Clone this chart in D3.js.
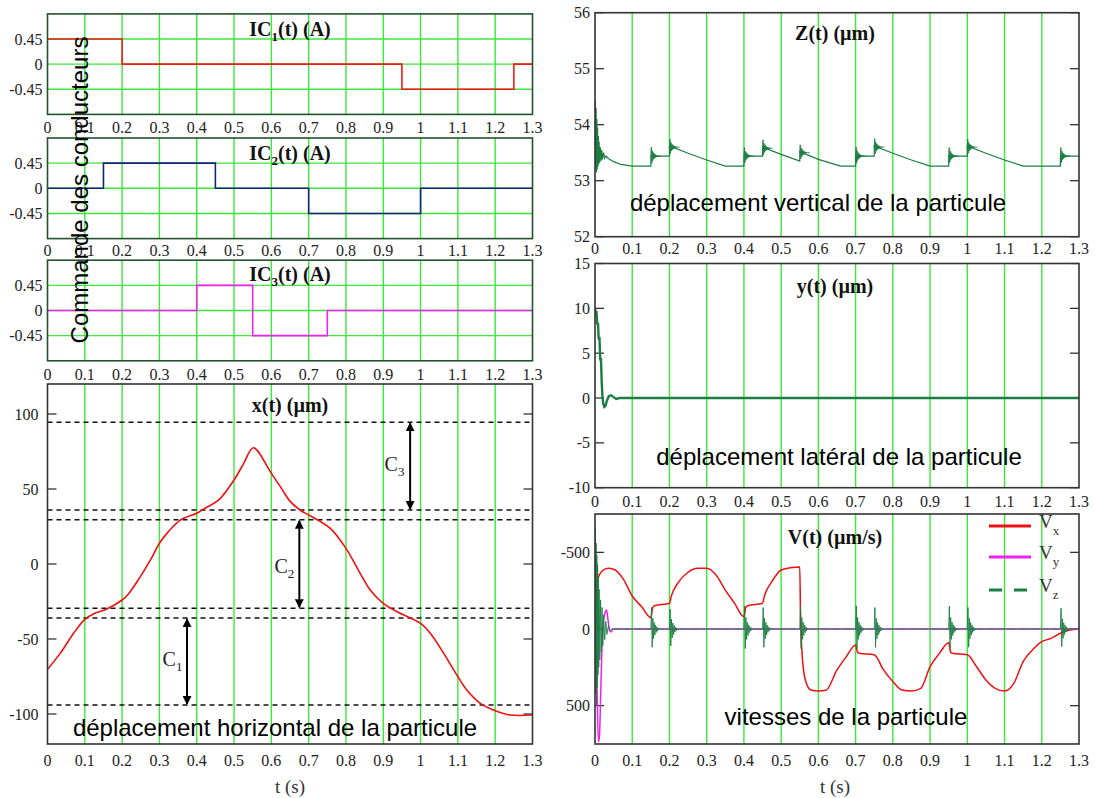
<!DOCTYPE html>
<html><head><meta charset="utf-8">
<script src="https://cdn.jsdelivr.net/npm/d3@7"></script>
<style>body{margin:0;background:#fff}svg{display:block}</style>
</head><body><svg id="c" width="1095" height="798"></svg>
<script>
// ---------------- DATA ----------------
const tTicks = [0,0.1,0.2,0.3,0.4,0.5,0.6,0.7,0.8,0.9,1,1.1,1.2,1.3];
const tTickLabels = ["0","0.1","0.2","0.3","0.4","0.5","0.6","0.7","0.8","0.9","1","1.1","1.2","1.3"];

const icTicks = [0.45, 0, -0.45];
const icTickLabels = ["0.45", "0", "-0.45"];
const ic1 = [[0,0.45],[0.2,0.45],[0.2,0],[0.95,0],[0.95,-0.45],[1.25,-0.45],[1.25,0],[1.3,0]];
const ic2 = [[0,0],[0.15,0],[0.15,0.45],[0.45,0.45],[0.45,0],[0.7,0],[0.7,-0.45],[1.0,-0.45],[1.0,0],[1.3,0]];
const ic3 = [[0,0],[0.4,0],[0.4,0.45],[0.55,0.45],[0.55,-0.45],[0.75,-0.45],[0.75,0],[1.3,0]];

const xTicks = [100, 50, 0, -50, -100];
const xTickLabels = ["100", "50", "0", "-50", "-100"];
const xPos = [[0,-70.2],[0.034,-59.6],[0.07,-46.2],[0.1,-36.9],[0.123,-33.3],[0.159,-30],[0.2,-24],[0.218,-19.6],
  [0.249,-8.4],[0.276,2.7],[0.3,13.8],[0.32,20.4],[0.356,29.3],[0.4,33.8],[0.427,37.8],[0.459,42.7],[0.5,56],
  [0.526,67.1],[0.552,77.5],[0.6,60.4],[0.624,51.6],[0.651,41.6],[0.68,35.5],[0.7,32.7],[0.758,23.8],[0.8,10.4],
  [0.838,-6.2],[0.865,-17.3],[0.9,-26.2],[0.937,-31.8],[1.0,-39.6],[1.026,-46.2],[1.062,-59.6],[1.1,-75.1],
  [1.124,-84],[1.16,-92.9],[1.2,-97.8],[1.24,-100.7],[1.3,-100.7]];
const xLevels = [94.5, 36, 29.5, -29.5, -36, -94];
const coilArrows = [ {name:"3", t:0.972, from:94.5, to:36, lt:0.93, lv:66},
                     {name:"2", t:0.675, from:29.5, to:-29.5, lt:0.635, lv:-2},
                     {name:"1", t:0.374, from:-36, to:-94, lt:0.335, lv:-64} ];

const zTicks = [56, 55, 54, 53, 52];
const zTickLabels = ["56","55","54","53","52"];
const zStart = [[0,53.2],[0.001,54.44],[0.002,53.3],[0.003,54.3],[0.004,53.15],[0.005,54.1],[0.006,53.2],[0.007,53.95],
  [0.008,53.25],[0.009,53.8],[0.010,53.3],[0.011,53.7],[0.012,53.32],[0.014,53.6],[0.016,53.35],[0.018,53.55],
  [0.02,53.38],[0.023,53.5],[0.026,53.4],[0.03,53.44],[0.035,53.4]];
const zBase = [[0.035,53.4],[0.05,53.34],[0.07,53.29],[0.1,53.26],[0.15,53.26],[0.15,53.44],[0.2,53.44],[0.2,53.62],
  [0.25,53.49],[0.3,53.37],[0.35,53.26],[0.4,53.26],[0.4,53.44],[0.45,53.44],[0.45,53.6],[0.5,53.47],[0.55,53.35],
  [0.55,53.52],[0.6,53.38],[0.66,53.26],[0.7,53.26],[0.7,53.44],[0.75,53.44],[0.75,53.62],[0.8,53.49],[0.85,53.37],
  [0.9,53.26],[0.95,53.26],[0.95,53.44],[1.0,53.44],[1.0,53.62],[1.05,53.49],[1.1,53.37],[1.15,53.26],[1.25,53.26],
  [1.25,53.44],[1.3,53.44]];
// switching events: time, settled level, ringing amplitude
const zBursts = [[0.15,53.44,0.16],[0.2,53.6,0.14],[0.4,53.44,0.15],[0.45,53.58,0.15],[0.55,53.5,0.14],
  [0.7,53.44,0.16],[0.75,53.6,0.15],[0.95,53.44,0.15],[1.0,53.6,0.14],[1.25,53.44,0.15]];
const zBurstShape = [0,1,-0.8,0.6,-0.5,0.4,-0.34,0.28,-0.23,0.18,-0.15,0.12,-0.1,0.08,-0.06,0.05,-0.04,0.03,-0.02,0.015,-0.01,0];
const zBurstStep = 0.0013;

const yTicks = [15, 10, 5, 0, -5, -10];
const yTickLabels = ["15","10","5","0","-5","-10"];
const yPos = [[0,10],[0.002,9.5],[0.004,9.7],[0.006,8.2],[0.008,8.4],[0.01,6.5],[0.012,6.8],[0.014,4.2],[0.016,4.5],
  [0.018,1.8],[0.02,0.2],[0.022,-0.6],[0.025,-1.0],[0.028,-0.9],[0.032,-0.3],[0.037,0.2],[0.043,0.3],[0.05,0.1],
  [0.057,-0.1],[0.065,0],[1.3,0]];

const vTicks = [-500, 0, 500];
const vTickLabels = ["-500", "0", "500"];
const vx = [[0,0],[0.003,-250],[0.008,-330],[0.02,-380],[0.035,-396],[0.05,-390],[0.075,-330],[0.1,-215],[0.125,-146],
  [0.15,-74],[0.155,-140],[0.16,-152],[0.2,-168],[0.205,-215],[0.222,-298],[0.25,-370],[0.275,-396],[0.3,-396],
  [0.325,-352],[0.35,-254],[0.375,-167],[0.4,-80],[0.405,-140],[0.41,-152],[0.45,-168],[0.455,-215],[0.475,-309],
  [0.5,-385],[0.525,-400],[0.55,-405],[0.552,-100],[0.555,115],[0.565,333],[0.58,398],[0.6,404],[0.62,400],
  [0.65,267],[0.675,180],[0.7,104],[0.705,150],[0.71,158],[0.75,168],[0.775,267],[0.8,343],[0.825,398],[0.85,404],
  [0.875,387],[0.9,246],[0.925,159],[0.95,89],[0.955,150],[0.96,158],[1.0,168],[1.025,246],[1.05,333],[1.075,387],
  [1.1,404],[1.125,354],[1.15,213],[1.175,137],[1.2,83],[1.225,61],[1.25,28],[1.275,7],[1.3,0]];
const vy = [[0,0],[0.003,100],[0.006,450],[0.009,735],[0.012,700],[0.015,450],[0.019,100],[0.023,-60],[0.028,-115],
  [0.031,-124],[0.035,-60],[0.039,10],[0.043,20],[0.048,0],[1.3,0]];
const vzStart = [[0,0],[0.001,-660],[0.002,420],[0.003,-560],[0.004,500],[0.005,-480],[0.006,380],[0.007,-420],
  [0.008,300],[0.009,-330],[0.010,250],[0.011,-260],[0.013,200],[0.015,-190],[0.017,150],[0.019,-140],[0.021,110],
  [0.023,-90],[0.026,70],[0.029,-50],[0.032,35],[0.036,-20],[0.04,10],[0.045,0]];
const vzBursts = [[0.15,140],[0.2,130],[0.4,150],[0.45,140],[0.55,150],[0.7,150],[0.75,140],[0.95,150],[1.0,140],[1.25,135]];
const vzBurstShape = [0,1,-0.85,0.5,-0.45,0.3,-0.28,0.18,-0.16,0.1,-0.09,0.05,-0.04,0.02,-0.01,0];
const vzBurstStep = 0.0018;

// ---------------- DRAWING ----------------
const svg = d3.select("#c");
const SERIF = "'Liberation Serif','Times New Roman',serif";
const SANS = "'Liberation Sans',Arial,sans-serif";
const GRID = "#3be83b";
let clipId = 0;

function panel(o) {
  const x = d3.scaleLinear([0, 1.3], [o.x0, o.x1]);
  const y = d3.scaleLinear(o.yDomain, o.yRange);
  const top = Math.min(...o.yRange), bot = Math.max(...o.yRange);
  const g = svg.append("g");
  const id = "clip" + (clipId++);
  g.append("clipPath").attr("id", id).append("rect")
    .attr("x", o.x0).attr("y", top).attr("width", o.x1 - o.x0).attr("height", bot - top);
  g.append("g").selectAll("line").data(tTicks.slice(1, -1)).join("line")
    .attr("x1", d => x(d)).attr("x2", d => x(d)).attr("y1", top).attr("y2", bot)
    .attr("stroke", GRID).attr("stroke-width", 1.4);
  if (o.hGrid) {
    g.append("g").selectAll("line").data(o.yTicks).join("line")
      .attr("x1", o.x0).attr("x2", o.x1).attr("y1", d => y(d)).attr("y2", d => y(d))
      .attr("stroke", GRID).attr("stroke-width", 1.4);
  }
  if (o.tickMarks) {
    g.append("g").selectAll("line").data(o.yTicks).join("line")
      .attr("x1", o.x0).attr("x2", o.x0 + 9).attr("y1", d => y(d)).attr("y2", d => y(d))
      .attr("stroke", "#222").attr("stroke-width", 1.2);
    g.append("g").selectAll("line").data(o.yTicks).join("line")
      .attr("x1", o.x1 - 9).attr("x2", o.x1).attr("y1", d => y(d)).attr("y2", d => y(d))
      .attr("stroke", "#222").attr("stroke-width", 1.2);
  }
  g.append("g").selectAll("text").data(tTicks).join("text")
    .attr("x", d => x(d)).attr("y", o.labelY + 5).attr("text-anchor", "middle")
    .attr("font-family", SERIF).attr("font-size", 16).attr("fill", "#222")
    .text((d, i) => tTickLabels[i]);
  g.append("g").selectAll("text").data(o.yTicks).join("text")
    .attr("x", o.x0 - o.yLabGap).attr("y", d => y(d) + 5.5).attr("text-anchor", "end")
    .attr("font-family", SERIF).attr("font-size", 16).attr("fill", "#222")
    .text((d, i) => o.yTickLabels[i]);
  const plot = g.append("g").attr("clip-path", `url(#${id})`);
  const frame = () => g.append("rect").attr("x", o.x0).attr("y", top)
    .attr("width", o.x1 - o.x0).attr("height", bot - top)
    .attr("fill", "none").attr("stroke", o.border).attr("stroke-width", 1.6);
  return {x, y, g, plot, frame, top, bot};
}

function title(g, xc, yb, main, sub, rest) {
  const t = g.append("text").attr("x", xc).attr("y", yb).attr("text-anchor", "middle")
    .attr("font-family", SERIF).attr("font-weight", "bold").attr("font-size", 20).attr("fill", "#111");
  t.append("tspan").text(main);
  if (sub) {
    t.append("tspan").attr("font-size", 13).attr("dy", 5).text(sub);
    t.append("tspan").attr("dy", -5).text(rest);
  }
}
function note(g, xc, yc, txt) {
  g.append("text").attr("x", xc).attr("y", yc + 8).attr("text-anchor", "middle")
    .attr("font-family", SANS).attr("font-size", 24).attr("fill", "#000").text(txt);
}

// --- IC panels
const icPanels = [
  {data: ic1, color: "#f01a10", yRange: [114.4, 13.9], labelY: 127.5, titleY: 36, sub: "1"},
  {data: ic2, color: "#14237a", yRange: [238.6, 138.0], labelY: 251, titleY: 159.5, sub: "2"},
  {data: ic3, color: "#f022f0", yRange: [360.8, 260.2], labelY: 375, titleY: 281, sub: "3"}
];
icPanels.forEach(p => {
  const P = panel({x0: 47.5, x1: 532.5, yDomain: [-0.9, 0.9], yRange: p.yRange, yTicks: icTicks,
    yTickLabels: icTickLabels, hGrid: true, tickMarks: false, labelY: p.labelY, border: "#24522a", yLabGap: 5});
  P.plot.append("path").datum(p.data)
    .attr("d", d3.line().x(d => P.x(d[0])).y(d => P.y(d[1])))
    .attr("fill", "none").attr("stroke", p.color).attr("stroke-width", 1.6);
  P.frame();
  title(P.g, 290, p.titleY, "IC", p.sub, "(t) (A)");
});

// --- x(t) panel
{
  const P = panel({x0: 47.5, x1: 532.5, yDomain: [-120, 120], yRange: [744, 384], yTicks: xTicks,
    yTickLabels: xTickLabels, hGrid: false, tickMarks: true, labelY: 761, border: "#333", yLabGap: 9});
  P.plot.append("g").selectAll("line").data(xLevels).join("line")
    .attr("x1", 47.5).attr("x2", 532.5).attr("y1", d => P.y(d)).attr("y2", d => P.y(d))
    .attr("stroke", "#111").attr("stroke-width", 1.3).attr("stroke-dasharray", "5,4");
  P.plot.append("path").datum(xPos)
    .attr("d", d3.line().x(d => P.x(d[0])).y(d => P.y(d[1])).curve(d3.curveCatmullRom.alpha(0.5)))
    .attr("fill", "none").attr("stroke", "#f01010").attr("stroke-width", 1.6);
  const defs = svg.append("defs");
  defs.append("marker").attr("id", "ah").attr("viewBox", "0 0 10 10").attr("refX", 9).attr("refY", 5)
    .attr("markerWidth", 9).attr("markerHeight", 9).attr("markerUnits", "userSpaceOnUse").attr("orient", "auto-start-reverse")
    .append("path").attr("d", "M0,0 L10,5 L0,10 z").attr("fill", "#000");
  coilArrows.forEach(a => {
    P.g.append("line").attr("x1", P.x(a.t)).attr("x2", P.x(a.t))
      .attr("y1", P.y(a.from) + 1).attr("y2", P.y(a.to) - 1)
      .attr("stroke", "#000").attr("stroke-width", 2)
      .attr("marker-start", "url(#ah)").attr("marker-end", "url(#ah)");
    const t = P.g.append("text").attr("x", P.x(a.lt)).attr("y", P.y(a.lv) + 6).attr("text-anchor", "middle")
      .attr("font-family", SERIF).attr("font-size", 20).attr("fill", "#222");
    t.append("tspan").text("C");
    t.append("tspan").attr("font-size", 13).attr("dy", 5).text(a.name);
  });
  P.frame();
  title(P.g, 290, 412, "x(t) (µm)");
  note(P.g, 275, 728, "déplacement horizontal de la particule");
  P.g.append("text").attr("x", 290).attr("y", 793).attr("text-anchor", "middle")
    .attr("font-family", SERIF).attr("font-size", 19).attr("fill", "#333").text("t (s)");
}

// --- Z panel
{
  const P = panel({x0: 595, x1: 1079, yDomain: [52, 56], yRange: [236.7, 12.7], yTicks: zTicks,
    yTickLabels: zTickLabels, hGrid: false, tickMarks: true, labelY: 248.5, border: "#333", yLabGap: 5});
  const ln = d3.line().x(d => P.x(d[0])).y(d => P.y(d[1]));
  const col = "#1b7d42";
  P.plot.append("path").datum(zStart).attr("d", ln).attr("fill", "none").attr("stroke", col).attr("stroke-width", 1.2);
  P.plot.append("path").datum(zBase).attr("d", ln).attr("fill", "none").attr("stroke", col).attr("stroke-width", 1.2);
  zBursts.forEach(b => {
    const pts = zBurstShape.map((s, i) => [b[0] + i * zBurstStep, b[1] + b[2] * s]);
    P.plot.append("path").datum(pts).attr("d", ln).attr("fill", "none").attr("stroke", col).attr("stroke-width", 0.9);
  });
  P.frame();
  title(P.g, 835, 40, "Z(t) (µm)");
  note(P.g, 818, 203, "déplacement vertical de la particule");
}

// --- y panel
{
  const P = panel({x0: 595, x1: 1079, yDomain: [-10, 15], yRange: [487.7, 263.5], yTicks: yTicks,
    yTickLabels: yTickLabels, hGrid: false, tickMarks: true, labelY: 501.5, border: "#333", yLabGap: 5});
  P.plot.append("path").datum(yPos)
    .attr("d", d3.line().x(d => P.x(d[0])).y(d => P.y(d[1])))
    .attr("fill", "none").attr("stroke", "#1b7d42").attr("stroke-width", 2.4);
  P.frame();
  title(P.g, 835, 293, "y(t) (µm)");
  note(P.g, 839, 457, "déplacement latéral de la particule");
}

// --- V panel
{
  const P = panel({x0: 595, x1: 1079, yDomain: [-750, 750], yRange: [514, 744], yTicks: vTicks,
    yTickLabels: vTickLabels, hGrid: false, tickMarks: true, labelY: 761, border: "#333", yLabGap: 5});
  const ln = d3.line().x(d => P.x(d[0])).y(d => P.y(d[1]));
  const lnS = d3.line().x(d => P.x(d[0])).y(d => P.y(d[1])).curve(d3.curveMonotoneX);
  let vz = vzStart.slice();
  vzBursts.forEach(b => {
    vz.push([b[0], 0]);
    vzBurstShape.forEach((s, i) => vz.push([b[0] + i * vzBurstStep, -b[1] * s]));
  });
  vz.push([1.3, 0]);
  P.plot.append("path").datum(vx).attr("d", lnS).attr("fill", "none").attr("stroke", "#f01010").attr("stroke-width", 1.5);
  P.plot.append("path").datum(vy).attr("d", lnS).attr("fill", "none").attr("stroke", "#f020f0").attr("stroke-width", 1.5);
  P.plot.append("path").datum(vz).attr("d", ln).attr("fill", "none").attr("stroke", "#1b7d42").attr("stroke-width", 0.9);
  P.plot.append("path").datum([[0.05,0],[1.3,0]]).attr("d", ln).attr("fill", "none").attr("stroke", "#55707a")
    .attr("stroke-width", 1.2).attr("stroke-dasharray", "6,5");
  P.frame();
  title(P.g, 835, 544, "V(t) (µm/s)");
  note(P.g, 846, 717, "vitesses de la particule");
  P.g.append("text").attr("x", 835).attr("y", 793).attr("text-anchor", "middle")
    .attr("font-family", SERIF).attr("font-size", 19).attr("fill", "#333").text("t (s)");
  const leg = [
    {sub: "x", color: "#f01010", dash: null, y: 526},
    {sub: "y", color: "#f020f0", dash: null, y: 557},
    {sub: "z", color: "#1b7d42", dash: "13,12", y: 590}
  ];
  leg.forEach(l => {
    P.g.append("line").attr("x1", 989).attr("x2", 1031).attr("y1", l.y).attr("y2", l.y)
      .attr("stroke", l.color).attr("stroke-width", 3).attr("stroke-dasharray", l.dash);
    const t = P.g.append("text").attr("x", 1039).attr("y", l.y + 2).attr("font-family", SERIF)
      .attr("font-size", 19).attr("fill", "#333");
    t.append("tspan").text("V");
    t.append("tspan").attr("font-size", 13).attr("dy", 7).text(l.sub);
  });
}

// --- vertical caption
svg.append("text").attr("transform", "translate(88,190) rotate(-90)").attr("text-anchor", "middle")
  .attr("font-family", SANS).attr("font-size", 24).attr("fill", "#000").text("Commande des conducteurs");
</script></body></html>
